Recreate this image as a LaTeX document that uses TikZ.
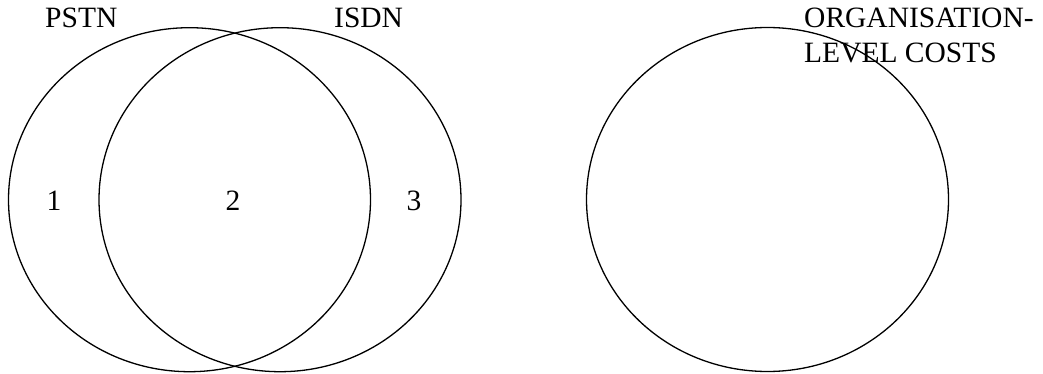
\documentclass[tikz,border=0pt]{standalone}
\usepackage{fontspec}
\setmainfont{Liberation Serif}
\usetikzlibrary{shapes.geometric}
\begin{document}
\begin{tikzpicture}[x=1pt,y=-1pt,
  venn/.style={draw=black,line width=1.3pt,ellipse,inner sep=0pt,minimum width=362pt,minimum height=344pt},
  lbl/.style={inner sep=0pt,anchor=base west,font=\fontsize{29.5}{35}\selectfont,align=left}]
\useasboundingbox (0,0) rectangle (1043,374);
\node[venn] (pstn) at (189.5,199.7) {};
\node[venn] (isdn) at (280,199.7) {};
\node[venn] (org) at (767.5,199.5) {};
\node[lbl] (tpstn) at (45,28) {PSTN};
\node[lbl] (tisdn) at (334,28) {ISDN};
\node[lbl] (n1) at (46.5,210) {1};
\node[lbl] (n2) at (225.5,210) {2};
\node[lbl] (n3) at (406.5,210) {3};
\node[lbl] (torg) at (804,63) {ORGANISATION-\\LEVEL COSTS};
\end{tikzpicture}
\end{document}
